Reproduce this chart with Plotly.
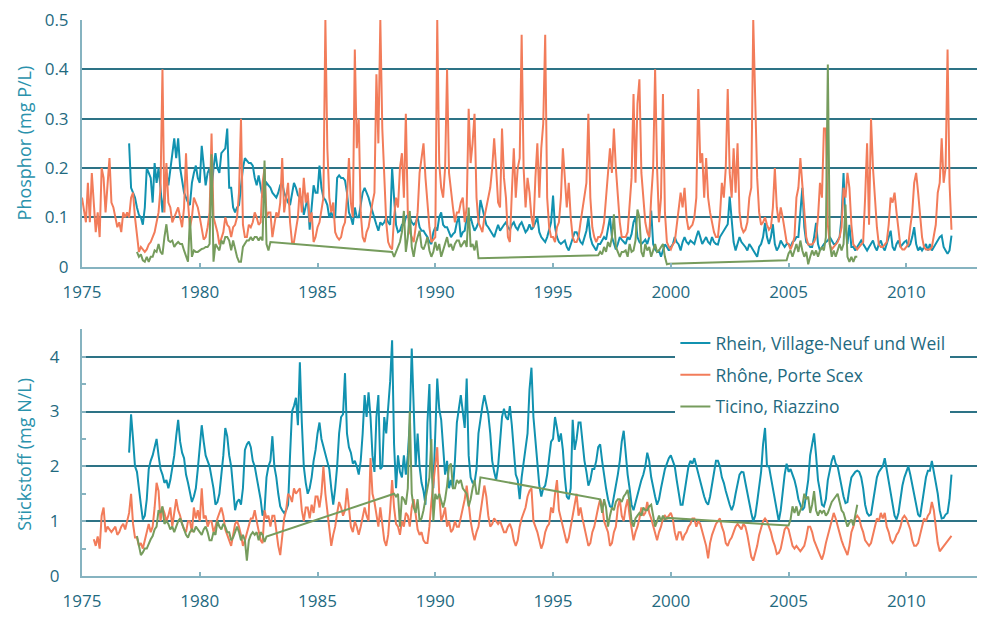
import plotly.graph_objects as go

# ---------------- data (monthly readings, one row per year) ----------------
YEAR_TICKS = [1975, 1980, 1985, 1990, 1995, 2000, 2005, 2010]
P_TICKS = [0, 0.1, 0.2, 0.3, 0.4, 0.5]
N_TICKS = [0, 1, 2, 3, 4]

SERIES_NAMES = ["Rhein, Village-Neuf und Weil", "Rhône, Porte Scex", "Ticino, Riazzino"]

# Phosphor (mg P/L)
RHEIN_P_START = (1977, 0)
RHEIN_P = [
    [0.25, 0.16, 0.15, 0.14, 0.12, 0.105, 0.10, 0.085, 0.12, 0.20, 0.19, 0.18],
    [0.13, 0.21, 0.17, 0.20, 0.16, 0.11, 0.15, 0.19, 0.165, 0.20, 0.23, 0.26],
    [0.22, 0.26, 0.20, 0.17, 0.15, 0.14, 0.13, 0.125, 0.17, 0.19, 0.205, 0.18],
    [0.17, 0.245, 0.20, 0.165, 0.19, 0.20, 0.15, 0.20, 0.23, 0.20, 0.19, 0.23],
    [0.235, 0.24, 0.28, 0.16, 0.16, 0.12, 0.11, 0.12, 0.125, 0.16, 0.20, 0.22],
    [0.215, 0.21, 0.21, 0.205, 0.18, 0.165, 0.185, 0.16, 0.14, 0.16, 0.17, 0.165],
    [0.16, 0.15, 0.145, 0.14, 0.15, 0.165, 0.17, 0.15, 0.14, 0.13, 0.125, 0.15],
    [0.17, 0.16, 0.145, 0.14, 0.14, 0.105, 0.12, 0.14, 0.075, 0.13, 0.165, 0.15],
    [0.15, 0.205, 0.16, 0.14, 0.135, 0.125, 0.10, 0.11, 0.10, 0.10, 0.18, 0.185],
    [0.18, 0.18, 0.175, 0.15, 0.11, 0.10, 0.085, 0.12, 0.10, 0.10, 0.125, 0.15],
    [0.16, 0.15, 0.14, 0.125, 0.11, 0.10, 0.085, 0.073, 0.09, 0.085, 0.09, 0.10],
    [0.09, 0.085, 0.20, 0.14, 0.085, 0.07, 0.073, 0.085, 0.085, 0.10, 0.105, 0.10],
    [0.09, 0.085, 0.09, 0.10, 0.08, 0.073, 0.073, 0.066, 0.06, 0.05, 0.046, 0.07],
    [0.08, 0.073, 0.10, 0.11, 0.085, 0.08, 0.08, 0.07, 0.06, 0.066, 0.07, 0.09],
    [0.10, 0.06, 0.07, 0.073, 0.10, 0.09, 0.10, 0.085, 0.073, 0.08, 0.09, 0.135],
    [0.12, 0.10, 0.085, 0.08, 0.073, 0.066, 0.06, 0.073, 0.085, 0.073, 0.08, 0.085],
    [0.09, 0.08, 0.075, 0.085, 0.09, 0.08, 0.075, 0.085, 0.09, 0.08, 0.07, 0.075],
    [0.086, 0.075, 0.08, 0.09, 0.10, 0.07, 0.06, 0.055, 0.05, 0.06, 0.075, 0.09],
    [0.144, 0.08, 0.06, 0.05, 0.046, 0.05, 0.053, 0.04, 0.033, 0.045, 0.06, 0.07],
    [0.07, 0.06, 0.05, 0.046, 0.06, 0.073, 0.10, 0.06, 0.046, 0.04, 0.033, 0.046],
    [0.046, 0.053, 0.06, 0.055, 0.075, 0.10, 0.06, 0.046, 0.035, 0.046, 0.06, 0.055],
    [0.05, 0.046, 0.06, 0.055, 0.066, 0.09, 0.10, 0.06, 0.05, 0.046, 0.05, 0.055],
    [0.046, 0.06, 0.114, 0.046, 0.035, 0.03, 0.033, 0.02, 0.033, 0.045, 0.04, 0.033],
    [0.04, 0.045, 0.06, 0.05, 0.045, 0.033, 0.05, 0.06, 0.05, 0.046, 0.053, 0.05],
    [0.046, 0.06, 0.073, 0.06, 0.046, 0.053, 0.06, 0.05, 0.046, 0.06, 0.05, 0.046],
    [0.045, 0.06, 0.066, 0.073, 0.08, 0.086, 0.142, 0.086, 0.05, 0.033, 0.046, 0.06],
    [0.05, 0.046, 0.04, 0.033, 0.046, 0.04, 0.033, 0.026, 0.02, 0.04, 0.046, 0.06],
    [0.089, 0.06, 0.046, 0.06, 0.086, 0.046, 0.033, 0.04, 0.053, 0.046, 0.04, 0.046],
    [0.046, 0.04, 0.05, 0.053, 0.06, 0.06, 0.11, 0.16, 0.08, 0.05, 0.046, 0.04],
    [0.04, 0.06, 0.089, 0.046, 0.033, 0.04, 0.046, 0.05, 0.053, 0.06, 0.053, 0.046],
    [0.046, 0.053, 0.06, 0.10, 0.19, 0.085, 0.046, 0.085, 0.04, 0.04, 0.033, 0.04],
    [0.046, 0.053, 0.046, 0.04, 0.033, 0.04, 0.046, 0.053, 0.04, 0.033, 0.046, 0.053],
    [0.04, 0.033, 0.046, 0.06, 0.073, 0.04, 0.033, 0.046, 0.053, 0.04, 0.046, 0.05],
    [0.053, 0.04, 0.046, 0.06, 0.08, 0.046, 0.033, 0.04, 0.033, 0.04, 0.046, 0.033],
    [0.046, 0.033, 0.04, 0.046, 0.053, 0.06, 0.063, 0.04, 0.033, 0.026, 0.033, 0.063],
]

RHONE_P_START = (1975, 0)
RHONE_P = [
    [0.14, 0.11, 0.09, 0.17, 0.09, 0.19, 0.12, 0.07, 0.11, 0.06, 0.20, 0.18],
    [0.11, 0.17, 0.22, 0.13, 0.12, 0.10, 0.08, 0.09, 0.07, 0.11, 0.10, 0.11],
    [0.10, 0.14, 0.15, 0.10, 0.06, 0.03, 0.04, 0.035, 0.03, 0.035, 0.045, 0.05],
    [0.06, 0.07, 0.09, 0.11, 0.16, 0.40, 0.11, 0.21, 0.13, 0.12, 0.09, 0.10],
    [0.11, 0.12, 0.10, 0.08, 0.12, 0.23, 0.13, 0.08, 0.10, 0.14, 0.13, 0.12],
    [0.10, 0.08, 0.055, 0.06, 0.08, 0.11, 0.27, 0.10, 0.085, 0.07, 0.045, 0.06],
    [0.07, 0.10, 0.085, 0.08, 0.06, 0.08, 0.085, 0.10, 0.15, 0.30, 0.085, 0.06],
    [0.06, 0.085, 0.08, 0.09, 0.11, 0.10, 0.085, 0.09, 0.17, 0.20, 0.10, 0.11],
    [0.11, 0.06, 0.09, 0.11, 0.10, 0.13, 0.22, 0.11, 0.14, 0.17, 0.09, 0.05],
    [0.05, 0.08, 0.10, 0.16, 0.11, 0.18, 0.13, 0.15, 0.09, 0.11, 0.05, 0.06],
    [0.08, 0.09, 0.12, 0.14, 0.50, 0.24, 0.14, 0.11, 0.13, 0.07, 0.06, 0.055],
    [0.06, 0.08, 0.09, 0.14, 0.22, 0.13, 0.10, 0.44, 0.24, 0.30, 0.11, 0.06],
    [0.05, 0.07, 0.08, 0.11, 0.13, 0.15, 0.39, 0.25, 0.50, 0.28, 0.17, 0.09],
    [0.05, 0.04, 0.035, 0.10, 0.14, 0.12, 0.20, 0.23, 0.14, 0.31, 0.11, 0.07],
    [0.06, 0.05, 0.08, 0.11, 0.19, 0.22, 0.25, 0.18, 0.13, 0.08, 0.05, 0.055],
    [0.06, 0.50, 0.21, 0.16, 0.14, 0.20, 0.40, 0.19, 0.15, 0.12, 0.09, 0.11],
    [0.11, 0.13, 0.14, 0.09, 0.12, 0.32, 0.21, 0.25, 0.31, 0.14, 0.09, 0.08],
    [0.07, 0.10, 0.12, 0.14, 0.16, 0.20, 0.26, 0.20, 0.13, 0.12, 0.28, 0.18],
    [0.14, 0.06, 0.05, 0.15, 0.24, 0.14, 0.20, 0.22, 0.47, 0.20, 0.12, 0.18],
    [0.15, 0.10, 0.08, 0.18, 0.25, 0.14, 0.24, 0.29, 0.47, 0.14, 0.08, 0.06],
    [0.06, 0.05, 0.08, 0.09, 0.14, 0.24, 0.17, 0.12, 0.17, 0.10, 0.06, 0.05],
    [0.05, 0.06, 0.09, 0.12, 0.14, 0.17, 0.31, 0.14, 0.08, 0.06, 0.05, 0.06],
    [0.06, 0.07, 0.09, 0.14, 0.20, 0.24, 0.19, 0.28, 0.20, 0.14, 0.09, 0.06],
    [0.06, 0.06, 0.07, 0.12, 0.18, 0.35, 0.17, 0.33, 0.38, 0.19, 0.14, 0.09],
    [0.07, 0.06, 0.14, 0.20, 0.40, 0.20, 0.09, 0.14, 0.35, 0.11, 0.05, 0.04],
    [0.035, 0.045, 0.05, 0.08, 0.12, 0.15, 0.12, 0.16, 0.10, 0.075, 0.08, 0.085],
    [0.10, 0.14, 0.36, 0.21, 0.23, 0.14, 0.22, 0.14, 0.11, 0.09, 0.07, 0.06],
    [0.06, 0.10, 0.17, 0.14, 0.20, 0.36, 0.19, 0.14, 0.24, 0.15, 0.25, 0.11],
    [0.08, 0.07, 0.075, 0.09, 0.14, 0.16, 0.50, 0.34, 0.18, 0.11, 0.085, 0.09],
    [0.10, 0.085, 0.075, 0.08, 0.12, 0.20, 0.12, 0.09, 0.12, 0.10, 0.07, 0.05],
    [0.045, 0.035, 0.045, 0.06, 0.14, 0.16, 0.22, 0.17, 0.12, 0.06, 0.045, 0.045],
    [0.045, 0.05, 0.06, 0.10, 0.17, 0.14, 0.28, 0.28, 0.085, 0.045, 0.035, 0.04],
    [0.045, 0.05, 0.06, 0.08, 0.16, 0.14, 0.19, 0.16, 0.085, 0.045, 0.04, 0.035],
    [0.04, 0.045, 0.05, 0.14, 0.25, 0.085, 0.30, 0.20, 0.14, 0.08, 0.045, 0.04],
    [0.04, 0.045, 0.05, 0.085, 0.14, 0.13, 0.15, 0.11, 0.07, 0.04, 0.035, 0.035],
    [0.04, 0.045, 0.08, 0.11, 0.17, 0.19, 0.15, 0.10, 0.06, 0.04, 0.035, 0.035],
    [0.035, 0.04, 0.06, 0.085, 0.15, 0.17, 0.26, 0.17, 0.20, 0.44, 0.17, 0.075],
]

# Ticino: separate measuring campaigns (joined by straight lines in the chart)
TICINO_P_SEGMENTS = [
    ((1977, 4), [
        [0.03, 0.02, 0.025, 0.013, 0.01, 0.02, 0.01, 0.02],
        [0.02, 0.033, 0.03, 0.046, 0.03, 0.025, 0.06, 0.086, 0.053, 0.05, 0.053, 0.04],
        [0.046, 0.05, 0.046, 0.046, 0.033, 0.02, 0.01, 0.10, 0.02, 0.033, 0.03, 0.03],
        [0.033, 0.036, 0.037, 0.04, 0.04, 0.046, 0.228, 0.01, 0.046, 0.04, 0.033, 0.053],
        [0.046, 0.06, 0.06, 0.053, 0.033, 0.053, 0.033, 0.02, 0.01, 0.01, 0.04, 0.046],
        [0.053, 0.053, 0.06, 0.053, 0.06, 0.06, 0.053, 0.06, 0.053, 0.215, 0.046, 0.033],
        [0.05],
    ]),
    ((1988, 2), [
        [0.03, 0.02, 0.03, 0.04, 0.05, 0.07, 0.113, 0.03, 0.06, 0.113],
        [0.04, 0.02, 0.046, 0.06, 0.073, 0.04, 0.035, 0.046, 0.06, 0.033, 0.02, 0.03],
        [0.05, 0.033, 0.046, 0.02, 0.033, 0.05, 0.06, 0.04, 0.046, 0.033, 0.046, 0.053],
        [0.053, 0.04, 0.046, 0.053, 0.04, 0.12, 0.04, 0.046, 0.033, 0.053, 0.017],
    ]),
    ((1996, 11), [
        [0.023],
        [0.03, 0.025, 0.04, 0.03, 0.05, 0.04, 0.06, 0.106, 0.04, 0.03, 0.02, 0.03],
        [0.03, 0.033, 0.02, 0.046, 0.03, 0.033, 0.053, 0.116, 0.10, 0.03, 0.02, 0.046],
        [0.033, 0.04, 0.02, 0.033, 0.046, 0.03, 0.033, 0.04, 0.046, 0.02, 0.005, 0.006],
    ]),
    ((2004, 11), [
        [0.013],
        [0.027, 0.033, 0.02, 0.033, 0.046, 0.03, 0.053, 0.033, 0.02, 0.03, 0.005, 0.02],
        [0.033, 0.023, 0.033, 0.02, 0.033, 0.04, 0.033, 0.06, 0.41, 0.046, 0.02, 0.033],
        [0.02, 0.033, 0.046, 0.033, 0.046, 0.126, 0.02, 0.01, 0.02, 0.01, 0.02, 0.02],
    ]),
]

# Stickstoff (mg N/L)
RHEIN_N_START = (1977, 0)
RHEIN_N = [
    [2.25, 2.95, 2.5, 2.0, 1.9, 1.55, 1.3, 1.03, 1.1, 1.4, 1.95, 2.1],
    [2.2, 2.35, 2.5, 2.2, 1.95, 1.85, 1.7, 1.75, 1.6, 1.75, 1.95, 2.2],
    [2.55, 2.85, 2.45, 2.25, 2.15, 1.85, 1.7, 1.55, 1.35, 1.45, 1.6, 1.95],
    [2.3, 2.75, 2.45, 2.2, 2.1, 2.0, 1.8, 1.6, 1.3, 1.35, 1.5, 1.85],
    [2.2, 2.7, 2.55, 2.2, 2.0, 1.6, 1.2, 1.35, 1.4, 1.3, 1.6, 2.3],
    [2.4, 2.45, 2.35, 2.1, 2.0, 1.8, 1.6, 1.4, 1.1, 1.2, 1.8, 2.0],
    [2.1, 2.55, 2.0, 1.8, 1.5, 1.27, 1.2, 1.15, 1.2, 1.3, 2.2, 3.0],
    [3.1, 3.25, 2.75, 3.9, 2.8, 2.0, 1.7, 1.5, 1.6, 1.8, 2.1, 2.3],
    [2.6, 2.8, 2.5, 2.35, 2.2, 2.05, 1.95, 1.6, 1.3, 1.6, 2.0, 2.6],
    [2.9, 2.95, 3.7, 2.6, 2.35, 2.25, 2.05, 2.1, 2.0, 1.85, 2.1, 2.6],
    [3.3, 2.9, 3.35, 2.9, 2.2, 1.9, 2.9, 3.3, 1.95, 2.0, 2.9, 2.6],
    [3.0, 3.55, 4.3, 2.4, 1.6, 2.2, 1.9, 1.8, 2.2, 1.85, 2.2, 2.8],
    [4.15, 3.0, 2.0, 2.6, 2.0, 1.7, 1.55, 1.3, 2.8, 3.5, 2.0, 1.6],
    [2.7, 3.6, 3.05, 2.85, 2.35, 1.85, 2.1, 1.6, 1.75, 1.6, 2.1, 2.8],
    [3.05, 3.3, 3.0, 2.7, 3.6, 2.2, 1.8, 1.7, 1.7, 1.95, 2.6, 2.9],
    [3.1, 3.3, 3.1, 2.95, 2.6, 2.1, 1.9, 1.75, 2.0, 2.5, 2.9, 3.05],
    [2.9, 2.85, 3.1, 2.75, 2.3, 1.85, 1.75, 1.4, 1.8, 2.05, 2.35, 2.6],
    [3.4, 3.8, 2.9, 2.5, 2.2, 1.65, 1.45, 1.6, 1.65, 1.85, 2.15, 2.45],
    [2.5, 2.9, 2.7, 2.45, 2.6, 2.3, 1.8, 1.45, 1.4, 1.6, 2.85, 2.3],
    [2.5, 2.8, 2.8, 2.45, 2.1, 1.9, 1.65, 1.75, 1.95, 1.95, 2.1, 2.35],
    [2.4, 2.1, 1.8, 1.6, 1.4, 1.27, 1.25, 1.45, 1.6, 1.85, 2.1, 2.45],
    [2.65, 2.2, 1.85, 1.6, 1.3, 1.2, 1.35, 1.5, 1.65, 1.75, 1.85, 2.0],
    [2.25, 2.1, 1.8, 1.6, 1.45, 1.3, 1.4, 1.6, 1.8, 1.95, 2.05, 2.15],
    [2.2, 2.1, 2.0, 1.75, 1.5, 1.3, 1.3, 1.55, 1.8, 2.0, 2.1, 2.05],
    [2.15, 2.0, 1.9, 1.75, 1.6, 1.45, 1.35, 1.3, 1.45, 1.65, 1.9, 2.1],
    [2.1, 2.0, 1.8, 1.7, 1.55, 1.4, 1.3, 1.2, 1.3, 1.5, 1.7, 1.85],
    [1.9, 1.89, 1.7, 1.5, 1.3, 1.15, 1.0, 1.1, 1.35, 1.6, 1.9, 2.4],
    [2.7, 2.0, 2.0, 1.8, 1.6, 1.4, 1.15, 1.0, 1.2, 1.55, 1.85, 2.05],
    [1.9, 1.95, 1.85, 1.75, 1.6, 1.4, 1.3, 1.2, 1.25, 1.5, 1.75, 2.2],
    [2.4, 2.6, 2.2, 1.75, 1.55, 1.3, 1.27, 1.4, 1.75, 1.95, 2.1, 2.2],
    [2.05, 2.0, 1.8, 1.6, 1.45, 1.33, 1.35, 1.6, 1.8, 1.85, 1.9, 1.92],
    [1.9, 1.8, 1.6, 1.3, 1.15, 1.1, 1.12, 1.35, 1.6, 1.8, 1.9, 1.95],
    [2.0, 2.15, 1.95, 1.75, 1.5, 1.3, 1.1, 1.03, 1.15, 1.4, 1.65, 1.8],
    [1.92, 2.0, 1.85, 1.65, 1.45, 1.27, 1.12, 1.08, 1.3, 1.6, 1.8, 1.92],
    [1.92, 2.1, 1.9, 1.75, 1.5, 1.2, 1.05, 1.06, 1.12, 1.15, 1.4, 1.85],
]

RHONE_N_START = (1975, 6)
RHONE_N = [
    [0.67, 0.55, 0.72, 0.5, 1.1, 1.25],
    [0.8, 0.9, 0.85, 0.8, 0.85, 0.9, 0.75, 0.8, 0.9, 0.95, 0.85, 1.0],
    [1.15, 1.5, 0.95, 0.7, 0.7, 0.55, 0.6, 0.5, 0.65, 0.75, 0.95, 0.8],
    [0.9, 1.25, 1.7, 1.55, 1.0, 1.25, 1.15, 1.0, 1.1, 1.25, 0.9, 1.15],
    [1.4, 1.2, 1.1, 0.95, 0.85, 0.8, 1.0, 1.0, 0.8, 1.25, 1.05, 1.2],
    [1.0, 1.6, 1.05, 1.1, 0.9, 1.0, 1.0, 0.8, 0.9, 1.05, 1.15, 1.25],
    [1.1, 0.85, 0.75, 0.65, 0.55, 0.75, 0.95, 1.0, 0.9, 0.75, 0.55, 0.65],
    [0.8, 0.9, 1.05, 1.05, 1.2, 1.0, 0.8, 0.65, 0.6, 1.2, 1.05, 1.1],
    [0.9, 1.1, 1.1, 0.8, 0.55, 0.38, 0.75, 1.05, 1.2, 1.5, 1.45, 1.35],
    [1.6, 1.5, 1.55, 1.6, 1.2, 1.0, 1.25, 1.25, 1.05, 1.3, 1.15, 1.45],
    [1.45, 1.25, 1.5, 2.0, 1.5, 1.15, 0.85, 0.55, 0.75, 0.9, 1.15, 1.35],
    [1.25, 1.1, 1.2, 1.6, 1.25, 0.9, 0.8, 1.0, 0.9, 0.75, 0.9, 1.05],
    [1.25, 1.1, 1.0, 2.15, 1.5, 1.35, 1.1, 0.9, 1.25, 0.9, 0.65, 0.55],
    [0.75, 1.2, 1.75, 1.25, 0.95, 0.9, 0.75, 1.0, 0.9, 1.15, 1.1, 0.9],
    [1.25, 1.4, 1.1, 0.85, 0.75, 0.8, 0.65, 0.6, 0.6, 0.9, 1.35, 1.65],
    [2.0, 2.35, 1.5, 1.0, 1.1, 1.25, 0.9, 1.0, 0.8, 0.85, 1.0, 0.9],
    [0.9, 1.05, 1.2, 1.4, 1.65, 1.25, 1.0, 0.8, 0.65, 0.8, 0.9, 1.15],
    [1.4, 1.65, 1.45, 1.1, 0.9, 0.95, 1.05, 1.0, 0.95, 1.0, 0.9, 0.8],
    [0.8, 0.9, 0.95, 0.85, 0.65, 0.55, 0.65, 0.9, 1.05, 1.15, 1.25, 1.45],
    [1.55, 1.6, 1.0, 0.9, 0.8, 0.65, 0.5, 0.6, 0.8, 0.9, 0.95, 1.25],
    [1.15, 1.5, 1.75, 1.2, 1.05, 0.85, 0.7, 0.6, 0.7, 0.9, 1.05, 1.3],
    [1.5, 1.1, 1.25, 1.05, 0.9, 0.75, 0.55, 0.6, 0.8, 0.9, 1.1, 1.25],
    [1.4, 1.3, 1.0, 0.9, 0.8, 0.55, 0.6, 0.8, 0.9, 1.25, 1.4, 1.1],
    [1.0, 1.25, 1.4, 1.1, 0.85, 0.65, 0.8, 0.9, 1.05, 1.25, 1.1, 1.15],
    [1.35, 1.15, 1.05, 0.9, 0.75, 0.65, 0.8, 0.9, 1.05, 1.1, 1.05, 1.1],
    [1.15, 1.05, 0.8, 0.65, 0.8, 0.8, 0.65, 0.75, 0.8, 0.9, 0.95, 1.05],
    [1.05, 0.9, 1.0, 0.95, 0.8, 0.65, 0.55, 0.32, 0.6, 0.75, 0.85, 0.95],
    [1.0, 1.05, 0.9, 0.8, 0.6, 0.55, 0.65, 0.7, 0.8, 0.9, 0.95, 0.9],
    [0.85, 0.95, 0.9, 0.75, 0.55, 0.35, 0.28, 0.4, 0.55, 0.75, 0.9, 1.0],
    [1.05, 1.0, 0.9, 0.8, 0.65, 0.55, 0.4, 0.42, 0.5, 0.65, 0.85, 0.9],
    [0.85, 0.7, 0.55, 0.5, 0.55, 0.5, 0.45, 0.5, 0.55, 0.7, 0.9, 0.9],
    [0.8, 0.65, 0.55, 0.45, 0.38, 0.3, 0.42, 0.6, 0.75, 0.9, 1.05, 1.15],
    [1.05, 0.9, 0.8, 0.65, 0.55, 0.45, 0.38, 0.55, 0.8, 0.9, 1.05, 1.1],
    [1.05, 0.9, 0.8, 0.65, 0.6, 0.55, 0.6, 0.75, 0.9, 1.05, 1.0, 1.15],
    [1.05, 1.15, 0.9, 0.8, 0.65, 0.6, 0.65, 0.75, 0.8, 0.9, 1.05, 1.1],
    [1.05, 0.95, 0.85, 0.65, 0.55, 0.55, 0.6, 0.75, 0.9, 1.05, 1.0, 1.1],
    [1.15, 1.35, 1.2, 0.9, 0.6, 0.45, 0.5, 0.55, 0.6, 0.65, 0.7, 0.73],
]

TICINO_N_SEGMENTS = [
    ((1977, 4), [
        [0.73, 0.55, 0.38, 0.43, 0.5, 0.5, 0.6, 0.67],
        [0.73, 0.85, 0.9, 1.2, 1.15, 1.27, 0.95, 1.0, 0.95, 0.85, 0.9, 0.8],
        [0.9, 1.0, 1.05, 0.95, 0.85, 0.75, 0.7, 0.8, 0.85, 0.8, 0.9, 0.85],
        [0.8, 0.75, 0.85, 0.9, 0.8, 0.65, 0.65, 0.8, 0.75, 1.0, 0.9, 0.85],
        [0.95, 0.9, 0.8, 0.8, 0.65, 0.7, 0.8, 0.9, 0.8, 0.65, 0.75, 0.65],
        [0.28, 0.65, 0.75, 0.8, 0.75, 0.8, 0.65, 0.8, 0.75, 0.62, 0.72],
    ]),
    ((1988, 3), [
        [1.5, 1.45, 1.5, 0.9, 1.45, 1.4, 1.3, 1.6, 3.0],
        [1.5, 1.25, 1.15, 1.4, 1.0, 1.05, 1.2, 1.4, 1.55, 1.8, 2.5, 1.0],
        [1.5, 1.4, 1.5, 1.35, 1.25, 1.4, 1.65, 2.0, 2.05, 1.6, 1.6, 1.75],
        [1.7, 1.75, 1.6, 1.55, 1.5, 1.27, 1.4, 1.6, 1.75, 1.5, 1.5, 1.8],
    ]),
    ((1997, 0), [
        [1.4, 1.15, 1.4, 1.25, 0.9, 1.1, 1.25, 1.2, 1.35, 1.4, 1.4, 1.35],
        [1.45, 1.5, 1.57, 1.35, 1.0, 0.9, 1.05, 1.1, 1.15, 1.1, 1.25, 1.2],
        [1.2, 1.27, 1.3, 1.1, 0.9, 1.0, 1.1, 1.0, 1.1, 1.03, 1.06],
    ]),
    ((2005, 0), [
        [0.92, 1.03, 1.27, 1.15, 1.27, 1.1, 1.2, 1.27, 1.5, 1.4, 1.45, 1.15],
        [1.3, 1.55, 1.2, 1.1, 1.2, 1.15, 1.2, 1.1, 1.15, 1.25, 1.35, 1.4],
        [1.45, 1.5, 1.35, 1.2, 1.15, 1.03, 0.9, 0.97, 1.03, 0.92, 1.1, 1.3],
    ]),
]

# ---------------- styling ----------------
BLUE = "#1192b0"
ORANGE = "#f27c5a"
GREEN = "#769c5d"
GRID = "#2d7386"
AXIS = "#86b3c0"
TICK_TEXT = "#1f6a7f"
TITLE_TEXT = "#2a92ac"
FONT = "Open Sans"


def monthly(start, rows):
    """Decimal-year x values for rows of monthly readings (one row per year)."""
    y0, m0 = start
    xs, ys = [], []
    for i, row in enumerate(rows):
        off = m0 if i == 0 else 0
        for j, v in enumerate(row):
            xs.append(y0 + i + (off + j) / 12.0)
            ys.append(v)
    return xs, ys


def segments(segs):
    xs, ys = [], []
    for start, rows in segs:
        sx, sy = monthly(start, rows)
        xs += sx
        ys += sy
    return xs, ys


fig = go.Figure()

panels = [
    ("x", "y", [monthly(RHEIN_P_START, RHEIN_P), monthly(RHONE_P_START, RHONE_P), segments(TICINO_P_SEGMENTS)], False),
    ("x2", "y2", [monthly(RHEIN_N_START, RHEIN_N), monthly(RHONE_N_START, RHONE_N), segments(TICINO_N_SEGMENTS)], True),
]
colors = [BLUE, ORANGE, GREEN]

for xa, ya, series, show in panels:
    for name, color, (xs, ys) in zip(SERIES_NAMES, colors, series):
        fig.add_trace(go.Scatter(
            x=xs, y=ys, mode="lines", name=name, legendgroup=name,
            showlegend=show, xaxis=xa, yaxis=ya,
            line=dict(color=color, width=2),
        ))

xaxis_common = dict(
    range=[1975, 2013], tickvals=YEAR_TICKS, ticks="inside", ticklen=4,
    tickwidth=1.5, tickcolor=AXIS, showline=True, linecolor=AXIS, linewidth=2,
    showgrid=False, zeroline=False, ticklabelstandoff=9,
    tickfont=dict(family=FONT, size=17, color=TICK_TEXT), domain=[0, 1],
)

fig.update_layout(
    width=984, height=619,
    margin=dict(l=82, r=7, t=20, b=31),
    paper_bgcolor="white", plot_bgcolor="white",
    font=dict(family=FONT, color=TICK_TEXT),
    xaxis=dict(anchor="y", **xaxis_common),
    xaxis2=dict(anchor="y2", **xaxis_common),
    yaxis=dict(
        domain=[0.5563, 1.0], range=[0, 0.5], tickvals=P_TICKS, anchor="x",
        showgrid=True, gridcolor=GRID, gridwidth=1.5, zeroline=False,
        showline=True, linecolor=AXIS, linewidth=2, ticks="",
        ticklabelstandoff=8, tickfont=dict(family=FONT, size=17, color=TICK_TEXT),
    ),
    yaxis2=dict(
        domain=[0, 0.4437], range=[0, 4.5], tickvals=N_TICKS, anchor="x2",
        showgrid=True, gridcolor=GRID, gridwidth=1.5, zeroline=False,
        showline=True, linecolor=AXIS, linewidth=2,
        ticks="inside", ticklen=4, tickcolor=AXIS, tickwidth=1.5,
        minor=dict(dtick=0.5, tick0=0, ticks="inside", ticklen=4, tickcolor=AXIS, showgrid=False),
        ticklabelstandoff=17, tickfont=dict(family=FONT, size=17, color=TICK_TEXT),
    ),
    legend=dict(
        x=0.663, y=0.451, xanchor="left", yanchor="top",
        bgcolor="white", borderwidth=0, tracegroupgap=6,
        font=dict(family=FONT, size=17.5, color=TICK_TEXT),
    ),
    showlegend=True,
    annotations=[
        dict(text="Phosphor (mg P/L)", xref="paper", yref="paper", x=-0.0648, y=0.778,
             xanchor="center", yanchor="middle",
             textangle=-90, showarrow=False, font=dict(family=FONT, size=18, color=TITLE_TEXT)),
        dict(text="Stickstoff (mg N/L)", xref="paper", yref="paper", x=-0.0648, y=0.218,
             xanchor="center", yanchor="middle",
             textangle=-90, showarrow=False, font=dict(family=FONT, size=18, color=TITLE_TEXT)),
    ],
)

fig.write_html("out.html")
